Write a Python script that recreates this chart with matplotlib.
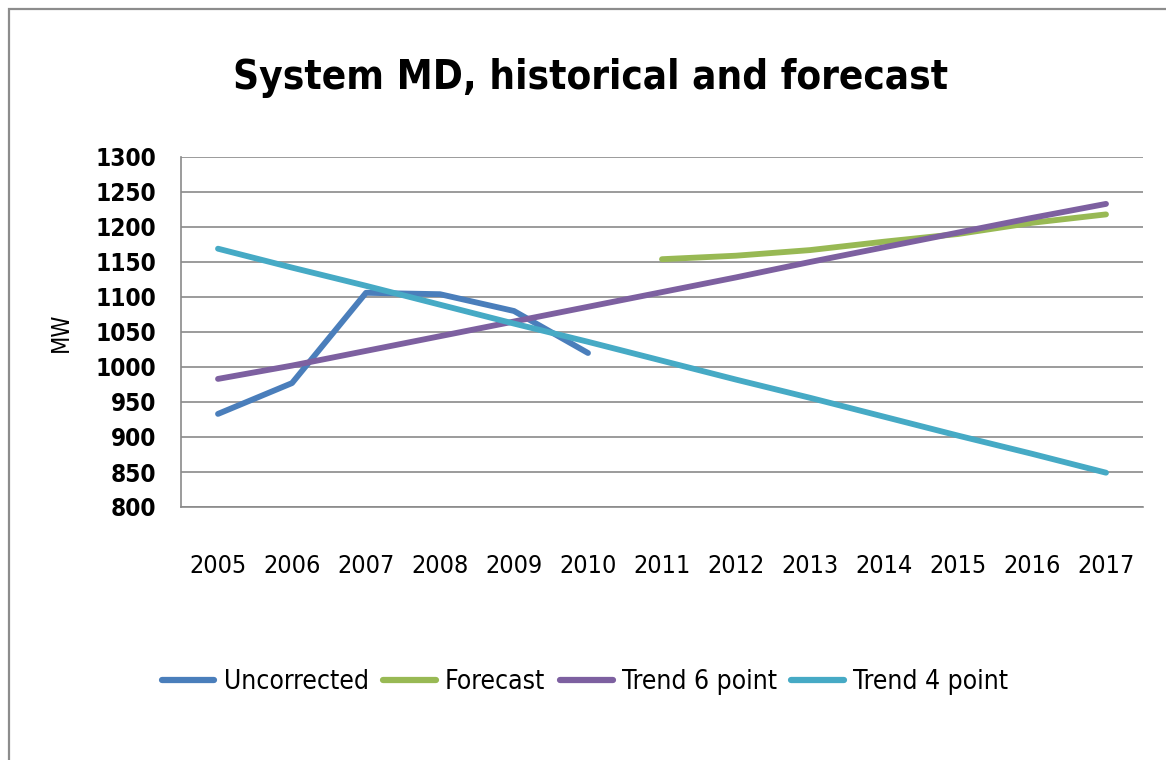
import numpy as np
import matplotlib
matplotlib.use("Agg")
import matplotlib.pyplot as plt
from matplotlib.patches import Rectangle

# yearly system maximum demand, MW
years = ["2005", "2006", "2007", "2008", "2009", "2010", "2011",
         "2012", "2013", "2014", "2015", "2016", "2017"]
uncorrected = [933, 977, 1106, 1104, 1080, 1020,
               None, None, None, None, None, None, None]
forecast = [None, None, None, None, None, None,
            1154, 1159, 1167, 1179, 1190, 1206, 1218]
trend_6pt = [983, 1002, 1023, 1044, 1065, 1086, 1107,
             1128, 1150, 1171, 1192, 1213, 1233]
trend_4pt = [1169, 1142, 1116, 1089, 1062, 1036, 1009,
             982, 956, 929, 902, 876, 849]
y_ticks = list(range(800, 1301, 50))

series = [
    ("Uncorrected", uncorrected, "#4a7ebb"),
    ("Forecast", forecast, "#98b954"),
    ("Trend 6 point", trend_6pt, "#7d60a0"),
    ("Trend 4 point", trend_4pt, "#46aac5"),
]

plt.rcParams["font.family"] = ["DejaVu Sans"]
plt.rcParams["font.stretch"] = "condensed"

fig = plt.figure(figsize=(11.66, 7.6), dpi=100)
W, H = 1166, 760

# outer chart frame (runs off the right and bottom edges)
fig.patches.append(Rectangle((9 / W, -0.1), 1.2, 1 - 9 / H + 0.1,
                             transform=fig.transFigure, fill=False,
                             edgecolor="#8c8c8c", linewidth=1.6))

ax = fig.add_axes([181 / W, 1 - 507 / H, 962 / W, 350 / H])
x = np.arange(len(years))

def to_arr(vals):
    return np.array([np.nan if v is None else v for v in vals], dtype=float)

for name, vals, color in series:
    ax.plot(x, to_arr(vals), color=color, linewidth=4.2,
            solid_capstyle="round", label=name)

ax.set_xlim(-0.5, len(years) - 0.5)
ax.set_ylim(800, 1300)
ax.set_yticks(y_ticks)
ax.set_xticks(x)
ax.set_xticklabels(years)
ax.yaxis.grid(True, color="#8a8a8a", linewidth=1.2)
ax.set_axisbelow(True)

for side in ("top", "right"):
    ax.spines[side].set_visible(False)
for side in ("left", "bottom"):
    ax.spines[side].set_color("#8a8a8a")
    ax.spines[side].set_linewidth(1.2)

ax.tick_params(axis="both", length=0)
ax.tick_params(axis="y", pad=18, labelsize=17.5)
ax.tick_params(axis="x", pad=34, labelsize=18)
for lbl in ax.get_yticklabels():
    lbl.set_fontweight("bold")

ax.set_ylabel("MW", fontsize=17, labelpad=16)

fig.text(591 / W, 1 - 78 / H, "System MD, historical and forecast",
         ha="center", va="center", fontsize=29, fontweight="bold")

leg = fig.legend(loc="center", bbox_to_anchor=(585 / W, 1 - 682 / H),
                 ncol=4, frameon=False, fontsize=19, handlelength=2.0,
                 handletextpad=0.35, columnspacing=0.55)
for line in leg.get_lines():
    line.set_linewidth(4.5)

fig.savefig("out.png", dpi=100)
